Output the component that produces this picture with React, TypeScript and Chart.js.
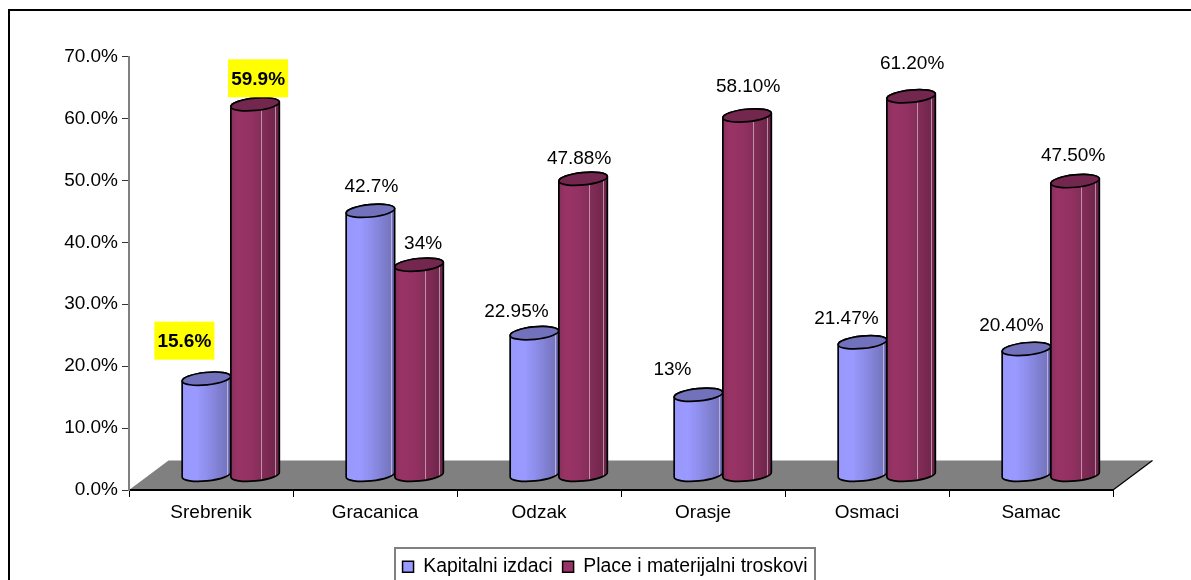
import React, { useEffect, useRef } from "react";
import { Chart, registerables } from "chart.js";

Chart.register(...registerables);

const categories = ["Srebrenik", "Gracanica", "Odzak", "Orasje", "Osmaci", "Samac"];
const kapitalniIzdaci = [15.6, 42.7, 22.95, 13, 21.47, 20.4];
const placeTroskovi = [59.9, 34, 47.88, 58.1, 61.2, 47.5];
const kapitalniLabels = ["15.6%", "42.7%", "22.95%", "13%", "21.47%", "20.40%"];
const placeLabels = ["59.9%", "34%", "47.88%", "58.10%", "61.20%", "47.50%"];

const FONT = "'Liberation Sans', Arial, sans-serif";
const FONT_SIZE = 19;
const LEGEND_FONT_SIZE = 19.4;
const DEPTH_X = 39.5;
const DEPTH_Y = 29.5;
const AREA = { left: 129, top: 56.5, right: 1113, bottom: 490 };

const kapitalniOffsets = [[-22, -38], [1, -25], [-18, -22], [-26, -26], [-16, -25], [-15, -24]];
const placeOffsets = [[3, -26], [4, -22], [-4, -21], [1, -30], [1, -33], [-2, -26]];

const seriesStyle = [
  {
    stops: [[0, "#9898FC"], [0.3, "#9999FF"], [0.55, "#8C8CE8"], [0.8, "#7C7CCB"], [1, "#7070B8"]],
    top: "#7272BC",
    shines: [0.93],
    labels: kapitalniLabels,
    offsets: kapitalniOffsets,
    highlight: [0],
  },
  {
    stops: [[0, "#86305B"], [0.12, "#993366"], [0.4, "#943263"], [0.65, "#832D58"], [1, "#6A2447"]],
    top: "#74274E",
    shines: [0.62, 0.9],
    labels: placeLabels,
    offsets: placeOffsets,
    highlight: [0],
  },
];

function cylinder(ctx: any, el: any, style: any) {
  const w = el.width;
  const cx = el.x + DEPTH_X / 2;
  const topY = el.y - DEPTH_Y / 2;
  const baseY = el.base - DEPTH_Y / 2;
  const rx = w / 2;
  const ry = 6.2;
  const rot = -0.1;
  const g = ctx.createLinearGradient(cx - rx, 0, cx + rx, 0);
  style.stops.forEach((s: any) => g.addColorStop(s[0], s[1]));

  ctx.save();
  const body = new Path2D();
  body.ellipse(cx, topY, rx, ry, rot, Math.PI, Math.PI * 2, false);
  body.ellipse(cx, baseY, rx, ry, rot, 0, Math.PI, false);
  body.closePath();
  ctx.fillStyle = g;
  ctx.fill(body);

  ctx.save();
  ctx.clip(body);
  ctx.strokeStyle = "rgba(240,225,240,0.55)";
  ctx.lineWidth = 1;
  style.shines.forEach((p: number) => {
    const x = Math.round(cx - rx + w * p) + 0.5;
    ctx.beginPath();
    ctx.moveTo(x, topY);
    ctx.lineTo(x, baseY + ry);
    ctx.stroke();
  });
  ctx.restore();

  ctx.strokeStyle = "#000";
  ctx.lineWidth = 1.7;
  ctx.stroke(body);

  ctx.beginPath();
  ctx.ellipse(cx, topY, rx, ry, rot, 0, Math.PI * 2);
  ctx.fillStyle = style.top;
  ctx.fill();
  ctx.stroke();
  ctx.restore();
}

const scenePlugin = {
  id: "scene",
  afterLayout(chart: any) {
    const lg = chart.legend;
    if (lg) {
      const shift = 605 - (lg.left + lg.right) / 2;
      lg.left += shift;
      lg.right += shift;
      lg.top = 547;
      lg.bottom = 547 + lg.height;
    }
  },
  beforeDraw(chart: any) {
    const ctx = chart.ctx;
    const { left, right, bottom } = chart.chartArea;
    ctx.save();
    ctx.strokeStyle = "#000";
    ctx.lineWidth = 2;
    ctx.beginPath();
    ctx.moveTo(9, 580);
    ctx.lineTo(9, 10);
    ctx.lineTo(1191, 10);
    ctx.stroke();

    ctx.fillStyle = "#808080";
    ctx.beginPath();
    ctx.moveTo(left, bottom);
    ctx.lineTo(right, bottom);
    ctx.lineTo(right + DEPTH_X, bottom - DEPTH_Y);
    ctx.lineTo(left + DEPTH_X, bottom - DEPTH_Y);
    ctx.closePath();
    ctx.fill();
    ctx.strokeStyle = "#000";
    ctx.lineWidth = 1.2;
    ctx.beginPath();
    ctx.moveTo(right, bottom);
    ctx.lineTo(right + DEPTH_X, bottom - DEPTH_Y);
    ctx.stroke();

    ctx.strokeStyle = "#808080";
    ctx.lineWidth = 2;
    ctx.beginPath();
    ctx.moveTo(395, 583);
    ctx.lineTo(395, 548);
    ctx.lineTo(815, 548);
    ctx.lineTo(815, 583);
    ctx.stroke();
    ctx.restore();
  },
  beforeDatasetsDraw(chart: any) {
    const ctx = chart.ctx;
    chart.data.datasets.forEach((_: any, di: number) => {
      chart.getDatasetMeta(di).data.forEach((el: any) => cylinder(ctx, el, seriesStyle[di]));
    });
    ctx.save();
    ctx.textAlign = "center";
    ctx.textBaseline = "middle";
    chart.data.datasets.forEach((_: any, di: number) => {
      const style = seriesStyle[di];
      chart.getDatasetMeta(di).data.forEach((el: any, i: number) => {
        const x = el.x + DEPTH_X / 2 + style.offsets[i][0];
        const y = el.y - DEPTH_Y / 2 + style.offsets[i][1];
        const hi = style.highlight.includes(i);
        if (hi) {
          ctx.fillStyle = "#FFFF00";
          ctx.fillRect(x - 30, y - 19, 60, 38);
        }
        ctx.fillStyle = "#000";
        ctx.font = `${hi ? "bold " : ""}${FONT_SIZE}px ${FONT}`;
        ctx.fillText(style.labels[i], x, y + 1);
      });
    });
    ctx.restore();
    return false;
  },
};

export default function App() {
  const ref = useRef<HTMLCanvasElement>(null);
  useEffect(() => {
    const chart = new Chart(ref.current as any, {
      type: "bar",
      data: {
        labels: categories,
        datasets: [
          { label: "Kapitalni izdaci", data: kapitalniIzdaci, backgroundColor: "#9999FF", borderColor: "#000", borderWidth: 1.5 },
          { label: "Place i materijalni troskovi", data: placeTroskovi, backgroundColor: "#993366", borderColor: "#000", borderWidth: 1.5 },
        ],
      },
      plugins: [scenePlugin],
      options: {
        responsive: false,
        animation: false,
        datasets: { bar: { categoryPercentage: 0.594, barPercentage: 1 } },
        layout: { padding: { left: 0, top: AREA.top, right: 1191 - AREA.right, bottom: 0 } },
        font: { family: FONT, size: FONT_SIZE },
        plugins: {
          tooltip: { enabled: false },
          title: { display: false },
          legend: {
            display: true,
            position: "bottom",
            labels: {
              color: "#000",
              boxWidth: 11,
              boxHeight: 11,
              padding: 10,
              font: { family: FONT, size: LEGEND_FONT_SIZE },
            },
          },
        },
        scales: {
          x: {
            afterFit: (s: any) => {
              s.height = 580 - AREA.bottom - (s.chart.legend?.height ?? 0);
            },
            grid: { drawOnChartArea: false, drawTicks: true, tickLength: 7, color: "#000" },
            border: { color: "#000", width: 2 },
            ticks: { color: "#000", padding: 4, font: { family: FONT, size: FONT_SIZE }, maxRotation: 0 },
          },
          y: {
            min: 0,
            max: 70,
            afterFit: (s: any) => {
              s.width = AREA.left;
            },
            grid: { drawOnChartArea: false, drawTicks: true, tickLength: 7, color: "#333" },
            border: { color: "#808080", width: 2 },
            ticks: {
              stepSize: 10,
              color: "#000",
              padding: 4,
              font: { family: FONT, size: FONT_SIZE },
              callback: (v: any) => Number(v).toFixed(1) + "%",
            },
          },
        },
      } as any,
    });
    return () => chart.destroy();
  }, []);
  return (
    <div style={{ position: "fixed", left: 0, top: 0, width: 1191, height: 580, background: "#fff" }}>
      <canvas ref={ref} width={1191} height={580} style={{ display: "block" }} />
    </div>
  );
}
